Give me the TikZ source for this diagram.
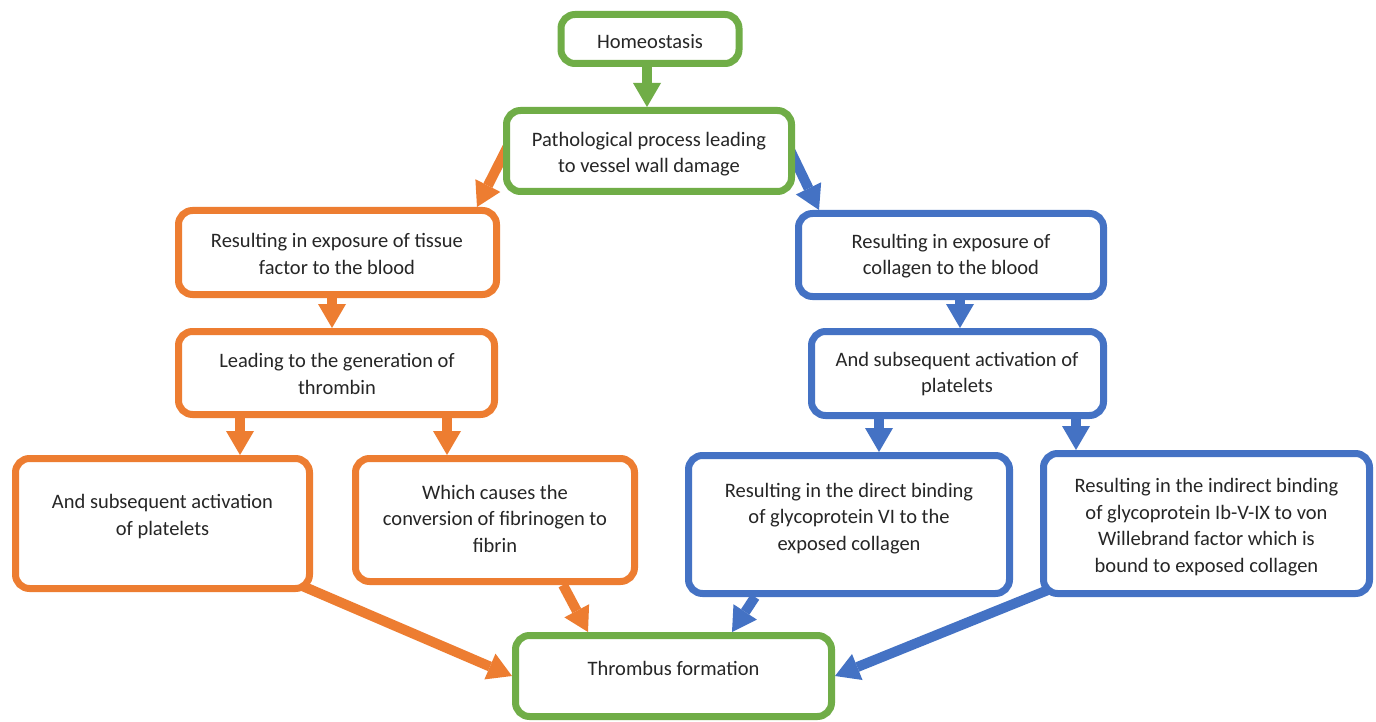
\documentclass[tikz,border=0pt]{standalone}
\usepackage{fontspec}
\setmainfont{Carlito}
\usetikzlibrary{arrows.meta,calc}
\definecolor{cgreen}{HTML}{70AD47}
\definecolor{corange}{HTML}{ED7D31}
\definecolor{cblue}{HTML}{4472C4}
\definecolor{ctext}{HTML}{262626}
\pgfdeclarelayer{background}
\pgfsetlayers{background,main}
\begin{document}
\begin{tikzpicture}[x=1pt,y=-1pt,
  box/.style={draw, line width=7pt, rounded corners=14pt, fill=white, inner sep=0pt},
  gbox/.style={box, draw=cgreen},
  obox/.style={box, draw=corange},
  bbox/.style={box, draw=cblue},
  txt/.style={font=\fontsize{20.5}{26.5}\selectfont, text=ctext, align=center, inner sep=0pt},
  arr/.style={line width=10pt, -{Triangle[width=28pt,length=24pt,line width=0pt]}},
  garr/.style={arr, draw=cgreen},
  oarr/.style={arr, draw=corange},
  barr/.style={arr, draw=cblue}]
\useasboundingbox (0,0) rectangle (1376,722);
% boxes
\node[gbox, minimum width=178pt, minimum height=49pt] (home) at (650,39) {};
\node[gbox, minimum width=285pt, minimum height=81pt] (path) at (649,151) {};
\node[obox, minimum width=318pt, minimum height=84pt] (tissue) at (337.5,252.5) {};
\node[obox, minimum width=316pt, minimum height=83pt] (thb) at (336.5,373) {};
\node[bbox, minimum width=305pt, minimum height=83pt] (col) at (951,255) {};
\node[bbox, minimum width=292pt, minimum height=84pt] (plR) at (957.5,373.5) {};
\node[obox, minimum width=294pt, minimum height=130pt] (b1) at (162.5,523.5) {};
\node[obox, minimum width=279pt, minimum height=123pt] (b2) at (495,520) {};
\node[bbox, minimum width=321pt, minimum height=138pt] (b3) at (849,524.5) {};
\node[bbox, minimum width=326pt, minimum height=140pt] (b4) at (1206.5,523.5) {};
\node[gbox, minimum width=316pt, minimum height=81pt] (thr) at (673.5,676) {};
% texts
\node[txt] (thome) at (650,42) {Homeostasis};
\node[txt] (tpath) at (649,154) {Pathological process leading\\to vessel wall damage};
\node[txt] (ttissue) at (337,254) {Resulting in exposure of tissue\\factor to the blood};
\node[txt] (tthb) at (337,374) {Leading to the generation of\\thrombin};
\node[txt] (tcol) at (951,256) {Resulting in exposure of\\collagen to the blood};
\node[txt] (tplR) at (957,374) {And subsequent activation of\\platelets};
\node[txt] (tb1) at (162.5,516.5) {And subsequent activation\\of platelets};
\node[txt] (tb2) at (495,518.5) {Which causes the\\conversion of fibrinogen to\\fibrin};
\node[txt] (tb3) at (849,518.5) {Resulting in the direct binding\\of glycoprotein VI to the\\exposed collagen};
\node[txt] (tb4) at (1206.5,527) {Resulting in the indirect binding\\of glycoprotein Ib-V-IX to von\\Willebrand factor which is\\bound to exposed collagen};
\node[txt] (tthr) at (673.5,668) {Thrombus formation};
% connectors
\begin{pgfonlayer}{background}
\fill[white] (0,0) rectangle (1376,722);
\draw[garr] (647,0 |- home.south) -- (647,0 |- path.north);
\draw[oarr] ($(path.west)+(7,-9)$) -- ($(tissue.north east)+(-23,0)$);
\draw[barr] ($(path.east)+(-5,-1)$) -- ($(col.north west)+(24,0)$);
\draw[oarr] (332,0 |- tissue.south) -- (332,0 |- thb.north);
\draw[barr] (960,0 |- col.south) -- (960,0 |- plR.north);
\draw[oarr] (240,0 |- thb.south) -- (240,0 |- b1.north);
\draw[oarr] (447,0 |- thb.south) -- (447,0 |- b2.north);
\draw[barr] (879,0 |- plR.south) -- (879,0 |- b3.north);
\draw[barr] (1076,0 |- plR.south) -- (1076,0 |- b4.north);
\draw[oarr] ($(b1.south east)+(-13,-7)$) -- (thr.west);
\draw[oarr] ($(b2.south)+(68,0)$) -- ($(thr.north west)+(76,0)$);
\draw[barr] ($(b3.south)+(-94,0)$) -- ($(thr.north east)+(-103,0)$);
\draw[barr] ($(b4.south west)+(8,-7)$) -- (thr.east);
\end{pgfonlayer}
\end{tikzpicture}
\end{document}
